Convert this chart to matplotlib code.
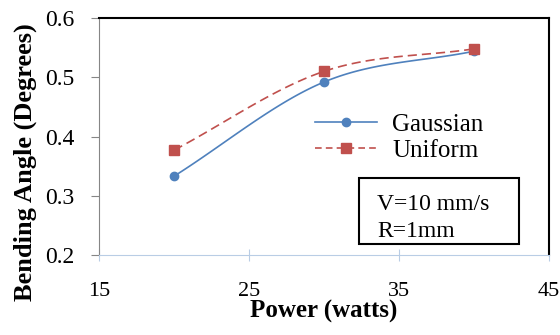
import numpy as np
import matplotlib.pyplot as plt
from matplotlib.patches import Rectangle

power = [20, 30, 40]
gaussian = [0.333, 0.492, 0.544]
uniform = [0.377, 0.510, 0.548]
x_ticks = [15, 25, 35, 45]
y_ticks = [0.2, 0.3, 0.4, 0.5, 0.6]

plt.rcParams['font.family'] = ['Liberation Serif', 'DejaVu Serif']


def smooth(x, y, n=40):
    # Catmull-Rom curve through the points, like a "smoothed line" chart
    x = np.asarray(x, float)
    y = np.asarray(y, float)
    px = np.concatenate([[2 * x[0] - x[1]], x, [2 * x[-1] - x[-2]]])
    py = np.concatenate([[2 * y[0] - y[1]], y, [2 * y[-1] - y[-2]]])
    xs, ys = [], []
    t = np.linspace(0, 1, n)
    for i in range(1, len(px) - 2):
        for p, out in ((px, xs), (py, ys)):
            p0, p1, p2, p3 = p[i - 1], p[i], p[i + 1], p[i + 2]
            out.extend(0.5 * (2 * p1 + (-p0 + p2) * t
                              + (2 * p0 - 5 * p1 + 4 * p2 - p3) * t ** 2
                              + (-p0 + 3 * p1 - 3 * p2 + p3) * t ** 3))
    return xs, ys


fig = plt.figure(figsize=(5.6, 3.35), dpi=100)
ax = fig.add_axes([0.177, 0.239, 0.803, 0.707])

blue = '#4f81bd'
red = '#c0504d'
dash = (5.5, 3)

sx, sy = smooth(power, gaussian)
ax.plot(sx, sy, color=blue, lw=1.2)
ax.plot(power, gaussian, 'o', color=blue, ms=6, ls='none')
sx, sy = smooth(power, uniform)
ax.plot(sx, sy, color=red, lw=1.2, dashes=dash)
ax.plot(power, uniform, 's', color=red, ms=6.5, ls='none')

# legend proxies
ax.plot([], [], '-o', color=blue, lw=1.2, ms=6, label='Gaussian')
ax.plot([], [], 's', color=red, ms=6.5, lw=1.2, ls='--', dashes=(4, 2.5),
        label='Uniform')
handles, labels = ax.get_legend_handles_labels()
ax.legend(handles, labels, loc='center left', bbox_to_anchor=(0.48, 0.496),
          frameon=False, fontsize=18, handlelength=2.5, handletextpad=0.6,
          labelspacing=0.15, borderaxespad=0, borderpad=0)

ax.set_xlim(15, 45)
ax.set_ylim(0.2, 0.6)
ax.set_xticks(x_ticks)
ax.set_yticks(y_ticks)
ax.set_yticklabels([f'{v:.1f}' for v in y_ticks])

ax.spines['left'].set_color('#868686')
ax.spines['top'].set_color('black')
ax.spines['right'].set_color('black')
ax.spines['bottom'].set_color('#b9cde5')
for s in ('top', 'right'):
    ax.spines[s].set_linewidth(1.5)
ax.tick_params(axis='y', direction='out', length=6, color='#868686',
               labelsize=17, pad=12)
ax.tick_params(axis='x', direction='inout', length=9, color='#b9cde5',
               labelsize=16, pad=15)

ax.set_xlabel('Power (watts)', fontsize=18, fontweight='bold', labelpad=-1)
ax.set_ylabel('Bending Angle (Degrees)', fontsize=19, fontweight='bold')
ax.yaxis.set_label_coords(-0.138, 0.39)

# condition box
ax.add_patch(Rectangle((0.578, 0.046), 0.356, 0.278, transform=ax.transAxes,
                       fc='white', ec='black', lw=1.5, zorder=3))
ax.text(0.618, 0.215, 'V=10 mm/s', transform=ax.transAxes, fontsize=17,
        va='center', ha='left', zorder=4)
ax.text(0.618, 0.097, 'R=1mm', transform=ax.transAxes, fontsize=17,
        va='center', ha='left', zorder=4)

fig.savefig('out.png', dpi=100)
